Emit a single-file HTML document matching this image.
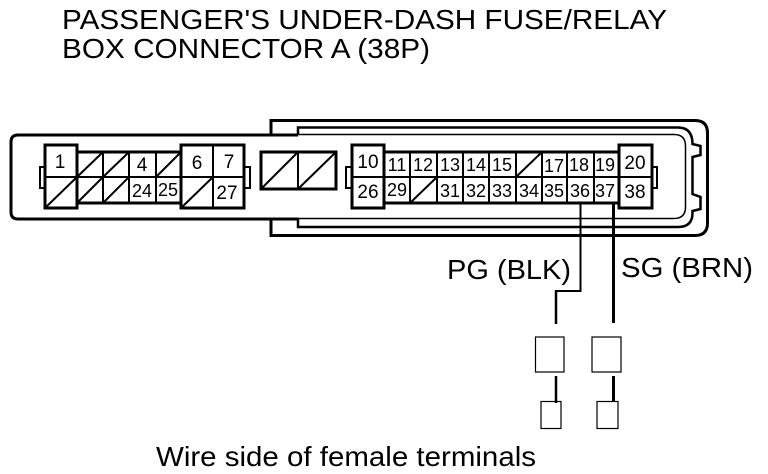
<!DOCTYPE html>
<html><head><meta charset="utf-8"><style>
html,body{margin:0;padding:0;background:#fff}
svg{display:block}
text{font-family:"Liberation Sans",Arial,sans-serif;fill:#000}
.n{font-size:19px;text-anchor:middle}
.s{font-size:18px;text-anchor:middle}
</style></head><body>
<svg width="768" height="474" viewBox="0 0 768 474" xmlns="http://www.w3.org/2000/svg">
<rect width="768" height="474" fill="#fff"/>
<text x="62" y="29" font-size="28" textLength="605" lengthAdjust="spacingAndGlyphs">PASSENGER'S UNDER-DASH FUSE/RELAY</text>
<text x="62" y="58" font-size="28" textLength="368" lengthAdjust="spacingAndGlyphs">BOX CONNECTOR A (38P)</text>

<g fill="none" stroke="#000">
<!-- left body -->
<path d="M298 135H18Q11 135 11 142V212Q11 219 18 219H298" stroke-width="3"/>
<!-- outer shroud -->
<path d="M271 135V120.500H695Q707.500 120.500 707.500 133V223Q707.500 235.500 695 235.500H271V219" stroke-width="3"/>
<path d="M298 135V127.500H678Q692.500 127.500 692.500 144L700.500 146V155L692.500 157V194L700.500 197V209L692.500 211V213Q692.500 227 678 227H298V219" stroke-width="2.500"/>
<path d="M298 134.500H674Q685.500 134.500 685.500 146V207Q685.500 218.500 674 218.500H298" stroke-width="1.500"/>

<!-- left block -->
<g stroke-width="3">
<rect x="45" y="145" width="32" height="63" fill="#fff"/>
<rect x="77" y="152" width="104" height="51" fill="#fff"/>
<rect x="181" y="145" width="63" height="63" fill="#fff"/>
<path d="M45 177H244" stroke-width="2"/>
<path d="M103 152V203M129 152V203M156 152V203M213 145V208" stroke-width="2"/>
<path d="M45 208L77 177M77 177L103 152M103 177L129 152M156 177L181 152M77 203L103 177M103 203L129 177M181 208L213 177" stroke-width="2"/>
<path d="M45 167H40V188H45M244 167H250V188H244" stroke-width="2"/>
</g>
<!-- middle -->
<g stroke-width="3">
<rect x="261" y="152" width="75" height="37" fill="#fff"/>
<path d="M298 152V189" stroke-width="2"/>
<path d="M261 189L298 152M298 189L336 152" stroke-width="2"/>
</g>
<!-- right block -->
<g stroke-width="3">
<rect x="352" y="145" width="32" height="63" fill="#fff"/>
<rect x="384" y="152" width="235" height="51" fill="#fff"/>
<rect x="619" y="145" width="33" height="63" fill="#fff"/>
<path d="M352 177H652M410 152V203M437 152V203M463 152V203M489 152V203M516 152V203M542 152V203M567 152V203M594 152V203" stroke-width="2"/>
<path d="M516 177L542 152M410 203L437 177" stroke-width="2"/>
<path d="M352 167H346V188H352M652 167H657V188H652" stroke-width="2"/>
</g>

<!-- wires -->
<path d="M580.500 204V291H556V324" stroke-width="2"/>
<path d="M556 291V324" stroke-width="2.500"/>
<path d="M613.500 204V323" stroke-width="3"/>
<path d="M556 376V403" stroke-width="2.500"/>
<path d="M613.500 376V402" stroke-width="3"/>
<g stroke-width="1.200">
<rect x="535.500" y="337" width="28.500" height="35"/>
<rect x="592" y="337" width="29" height="35"/>
<rect x="541" y="401.500" width="20" height="27"/>
<rect x="597" y="401.500" width="21" height="27"/>
</g>
</g>

<!-- numbers -->
<text class="n" x="60" y="168">1</text>
<text class="n" x="142" y="171">4</text>
<text class="n" x="197" y="169">6</text>
<text class="n" x="229" y="168">7</text>
<text class="s" x="142" y="197">24</text>
<text class="s" x="168" y="196">25</text>
<text class="n" x="227" y="199">27</text>
<text class="n" x="368" y="168">10</text>
<text class="n" x="368" y="198">26</text>
<text class="s" x="397" y="171">11</text>
<text class="s" x="423" y="171">12</text>
<text class="s" x="450" y="171">13</text>
<text class="s" x="476" y="171">14</text>
<text class="s" x="502" y="171">15</text>
<text class="s" x="554" y="172">17</text>
<text class="s" x="579" y="171">18</text>
<text class="s" x="605" y="171">19</text>
<text class="n" x="635" y="169">20</text>
<text class="s" x="397" y="196">29</text>
<text class="s" x="450" y="197">31</text>
<text class="s" x="476" y="197">32</text>
<text class="s" x="502" y="197">33</text>
<text class="s" x="529" y="197">34</text>
<text class="s" x="554" y="197">35</text>
<text class="s" x="580" y="197">36</text>
<text class="s" x="605" y="197">37</text>
<text class="n" x="635" y="198">38</text>

<text x="447" y="279" font-size="28" textLength="124" lengthAdjust="spacingAndGlyphs">PG (BLK)</text>
<text x="621" y="277" font-size="28" textLength="132" lengthAdjust="spacingAndGlyphs">SG (BRN)</text>
<text x="156" y="466" font-size="28" textLength="380" lengthAdjust="spacingAndGlyphs">Wire side of female terminals</text>
</svg>
</body></html>
